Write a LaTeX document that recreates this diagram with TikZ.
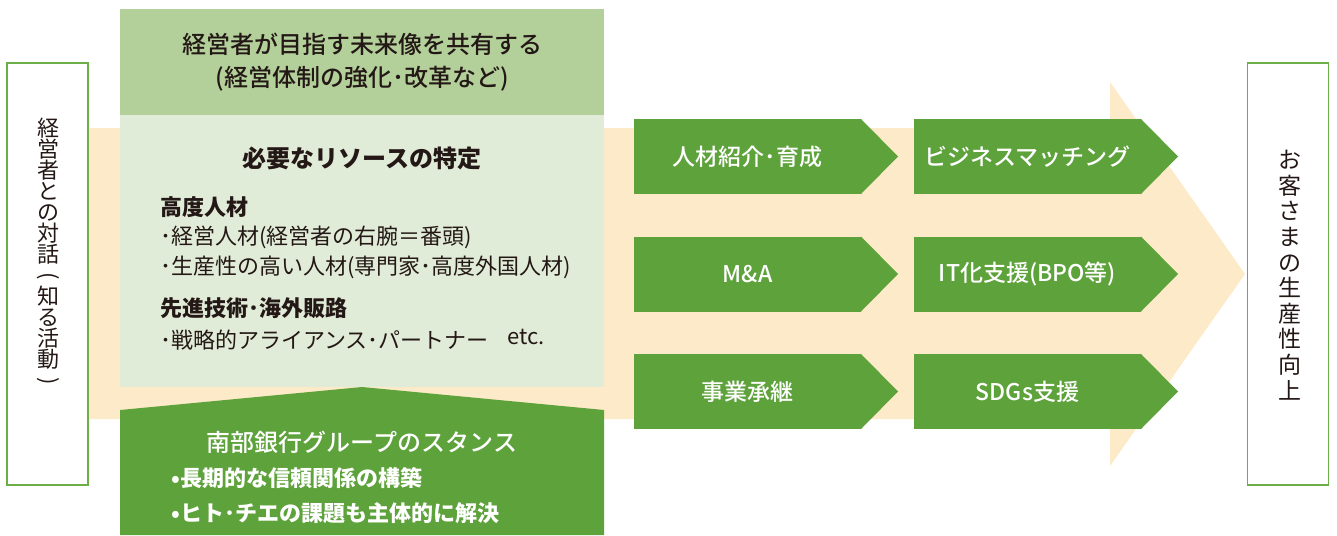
\documentclass[tikz,border=0pt]{standalone}
\usepackage{fontspec}
\usepackage{graphicx}
\setmainfont{Noto Sans CJK JP}
\newfontfamily\jpmed{Noto Sans CJK JP}[UprightFont=* Medium, BoldFont=* Bold]
\usetikzlibrary{positioning}

\definecolor{leafgreen}{RGB}{94,162,59}
\definecolor{sagegreen}{RGB}{179,208,155}
\definecolor{mistgreen}{RGB}{225,236,216}
\definecolor{paleorange}{RGB}{253,234,201}
\definecolor{framegreen}{RGB}{108,175,72}
\definecolor{inkgray}{RGB}{35,24,21}

% parentheses turned for vertical text
\newcommand{\vopen}{\rotatebox[origin=c]{-90}{(}}
\newcommand{\vclose}{\rotatebox[origin=c]{-90}{)}}

\tikzset{
  sidebox/.style={draw=framegreen, line width=1.4pt, fill=white, minimum width=81pt, minimum height=422pt},
  sidetext/.style={text=inkgray, align=center, inner sep=0pt},
  stepbox/.style={fill=leafgreen, text=white, minimum width=227pt, minimum height=75pt, inner sep=0pt, outer sep=0pt, font=\jpmed\fontsize{23}{28}\selectfont},
  plate/.style={minimum width=484pt, inner sep=0pt, outer sep=0pt},
  item/.style={anchor=west, inner sep=0pt, text=inkgray},
}

\begin{document}
\begin{tikzpicture}[x=1pt, y=-1pt]
\useasboundingbox (0,0) rectangle (1337,535);

% big arrow behind everything
\fill[paleorange] (88,128) -- (1110,128) -- (1110,82) -- (1245,274) -- (1110,466) -- (1110,419) -- (88,419) -- cycle;

% left and right columns
\node[sidebox] (talk) at (47.5,274) {};
\node[sidetext, font=\fontsize{22}{21}\selectfont] (talktext) at (48,253)
  {経\\営\\者\\と\\の\\対\\話\\\vopen\\知\\る\\活\\動\\\vclose};
\node[sidebox] (goal) at (1288,274) {};
\node[sidetext, font=\fontsize{23}{25.6}\selectfont] (goaltext) at (1290,275)
  {お\\客\\さ\\ま\\の\\生\\産\\性\\向\\上};

% shared vision
\node[plate, fill=sagegreen, minimum height=106pt, text=inkgray, align=center,
      font=\jpmed\fontsize{24}{33}\selectfont] (vision) at (362,62)
  {経営者が目指す未来像を共有する\\(経営体制の強化･改革など)};

% resources panel
\node[plate, fill=mistgreen, minimum height=272pt] (panel) at (362,251) {};
\node[text=inkgray, inner sep=0pt, font=\bfseries\fontsize{24}{28}\selectfont] (need) at (362,158) {必要なリソースの特定};
\node[item, font=\bfseries\fontsize{22}{26}\selectfont] (talent) at (160,207) {高度人材};
\node[item, font=\fontsize{22}{26}\selectfont] (talent1) at (160,237) {･経営人材(経営者の右腕＝番頭)};
\node[item, font=\fontsize{22}{26}\selectfont] (talent2) at (160,267) {･生産性の高い人材(専門家･高度外国人材)};
\node[item, font=\bfseries\fontsize{22}{26}\selectfont] (tech) at (160,308) {先進技術･海外販路};
\node[item, font=\fontsize{22}{26}\selectfont] (tech1) at (160,340) {･戦略的アライアンス･パートナー};
\node[item, font=\fontsize{22}{26}\selectfont] (etc) at (507,337) {etc.};

% stance
\fill[leafgreen] (120,410) -- (362,387) -- (604,410) -- (604,535) -- (120,535) -- cycle;
\node[text=white, inner sep=0pt, font=\jpmed\fontsize{24}{28}\selectfont] (stance) at (362,442) {南部銀行グループのスタンス};
\node[item, text=white, font=\bfseries\fontsize{22}{26}\selectfont] (stance1) at (171,478) {•長期的な信頼関係の構築};
\node[item, text=white, font=\bfseries\fontsize{22}{26}\selectfont] (stance2) at (171,513) {•ヒト･チエの課題も主体的に解決};

% support steps
\node[stepbox] (hr) at (747.5,156.5) {人材紹介･育成};
\node[stepbox] (ma) at (747.5,274) {M\&A};
\node[stepbox] (succ) at (747.5,391.5) {事業承継};
\node[stepbox] (match) at (1027.5,156.5) {ビジネスマッチング};
\node[stepbox] (it) at (1027.5,274) {IT化支援(BPO等)};
\node[stepbox] (sdgs) at (1027.5,391.5) {SDGs支援};
\foreach \n in {hr,ma,succ,match,it,sdgs}
  \fill[leafgreen] (\n.north east) -- ([xshift=37pt]\n.east) -- (\n.south east) -- cycle;
\end{tikzpicture}
\end{document}
